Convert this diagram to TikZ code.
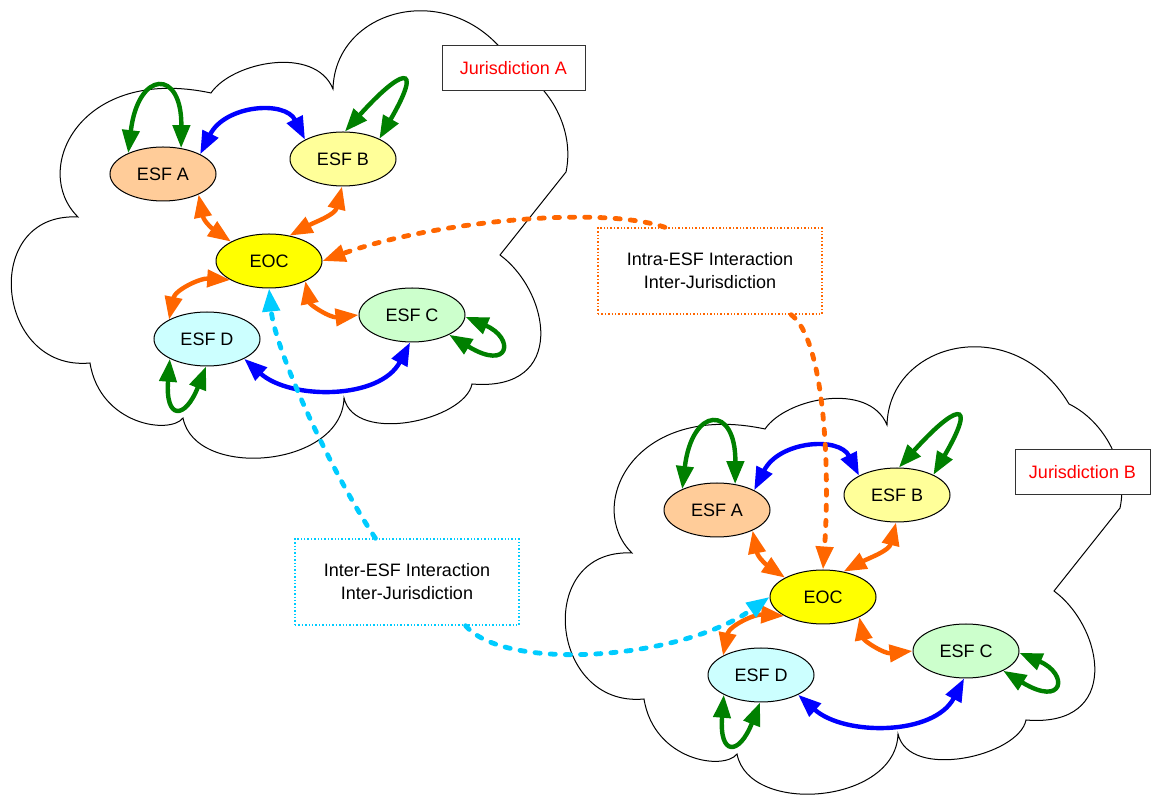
\documentclass[tikz,border=0pt]{standalone}
\usepackage{fontspec}
\setmainfont{Liberation Sans}
\usepackage{tikz}
\usetikzlibrary{calc,arrows.meta,shapes.geometric}
\usepackage{xcolor}
\definecolor{esfpeach}{HTML}{FFCC99}
\definecolor{esfyellow}{HTML}{FFFF99}
\definecolor{eocyellow}{HTML}{FFFF00}
\definecolor{esfgreen}{HTML}{CCFFCC}
\definecolor{esfcyan}{HTML}{CCFFFF}
\definecolor{loopgreen}{HTML}{008000}
\definecolor{peerblue}{HTML}{0000FF}
\definecolor{eocorange}{HTML}{FF6600}
\definecolor{intercyan}{HTML}{00CCFF}
\definecolor{jred}{HTML}{FF0000}
\tikzset{
  cloudline/.style={draw=black, line width=0.5pt},
  esf/.style={ellipse, draw=black, line width=0.5pt, inner sep=0pt,
    minimum width=53pt, minimum height=27pt},
  labelbox/.style={draw=black!80, fill=white, line width=0.5pt, text=jred,
    minimum width=71.5pt, minimum height=22.5pt},
  notebox/.style={densely dotted, line width=0.7pt, fill=white, align=center,
    minimum width=112pt, minimum height=43pt},
  bothway/.style={{Triangle[length=11.5pt,width=8.5pt]}-{Triangle[length=11.5pt,width=8.5pt]}, line width=2.2pt},
  selfloop/.style={bothway, draw=loopgreen},
  peerarr/.style={bothway, draw=peerblue},
  eocarr/.style={bothway, draw=eocorange},
  farr/.style={-{Triangle[length=11.5pt,width=8.5pt]}, line width=2.4pt, line cap=round,
    dash pattern=on 2.6pt off 5pt}
}
% one jurisdiction: cloud, EOC and ESFs, node names get prefix #1
\newcommand{\jurcloud}[1]{%
  \draw[cloudline] (211,93) .. controls (232,62) and (315,45) .. (333,89)
    .. controls (335,5) and (460,-25) .. (515,68)
    .. controls (550,85) and (575,130) .. (566,172)
    -- (500,255)
    .. controls (550,292) and (568,392) .. (472,384)
    .. controls (465,420) and (355,445) .. (344,398)
    .. controls (342,468) and (195,480) .. (183,418)
    .. controls (170,435) and (100,425) .. (90,363)
    .. controls (-5,372) and (-20,212) .. (78,217)
    .. controls (30,170) and (80,65) .. (211,93) -- cycle;
  \node[esf, fill=esfpeach] (#1a) at (163,174) {ESF A};
  \node[esf, fill=esfyellow] (#1b) at (343,159) {ESF B};
  \node[esf, fill=eocyellow] (#1eoc) at (269,261) {EOC};
  \node[esf, fill=esfgreen] (#1c) at (412,315) {ESF C};
  \node[esf, fill=esfcyan] (#1d) at (207,339) {ESF D};
  % intra-ESF
  \draw[selfloop] (#1a.149) .. controls (138,70) and (182,68) .. (#1a.55);
  \draw[selfloop] (#1b.86) .. controls (400,70) and (425,60) .. (#1b.29);
  \draw[selfloop] (#1c.-2) .. controls (515,338) and (510,372) .. (#1c.-28);
  \draw[selfloop] (#1d.208) .. controls (165,420) and (185,420) .. (#1d.268);
  % inter-ESF
  \draw[peerarr] (#1a.28) .. controls (225,105) and (285,100) .. (#1b.153);
  \draw[peerarr] (#1d.332) .. controls (290,400) and (380,400) .. (#1c.266);
  % ESF - EOC
  \draw[eocarr] (#1a.330) .. controls (204,222) and (214,230) .. (#1eoc.153);
  \draw[eocarr] (#1b.268) .. controls (335,215) and (315,222) .. (#1eoc.51);
  \draw[eocarr] (#1eoc.206) .. controls (200,278) and (175,290) .. (#1d.153);
  \draw[eocarr] (#1eoc.331) .. controls (310,305) and (330,318) .. (#1c.180);
}

\begin{document}
\begin{tikzpicture}[x=0.5pt, y=-0.5pt, font=\fontsize{9}{11.5}\selectfont]
  \useasboundingbox (0,0) rectangle (1151,795);
  \begin{scope}
    \jurcloud{ja}
  \end{scope}
  \begin{scope}[shift={(554,336)}]
    \jurcloud{jb}
  \end{scope}
  \node[labelbox] (jurA) at (513.5,68.5) {Jurisdiction A};
  \node[labelbox, minimum width=67.5pt] (jurB) at (1082.5,472.5) {Jurisdiction B};
  \node[notebox, draw=eocorange] (intra) at (710,271) {Intra-ESF Interaction\\Inter-Jurisdiction};
  \node[notebox, draw=intercyan] (inter) at (407,582) {Inter-ESF Interaction\\Inter-Jurisdiction};
  \draw[farr, draw=eocorange] ($(intra.north west)!0.3!(intra.north east)$)
    .. controls (600,205) and (430,222) .. (jaeoc.east);
  \draw[farr, draw=eocorange] ($(intra.south west)!0.86!(intra.south east)$)
    .. controls (825,340) and (830,470) .. (jbeoc.north);
  \draw[farr, draw=intercyan] ($(inter.north west)!0.36!(inter.north east)$)
    .. controls (330,470) and (275,350) .. (jaeoc.south);
  \draw[farr, draw=intercyan] ($(inter.south west)!0.76!(inter.south east)$)
    .. controls (505,672) and (680,660) .. (jbeoc.west);
\end{tikzpicture}
\end{document}
